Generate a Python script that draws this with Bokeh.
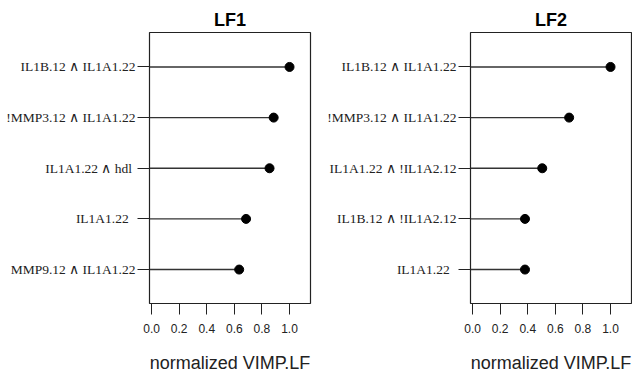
from bokeh.plotting import figure
from bokeh.layouts import row
from bokeh.models import FixedTicker
from bokeh.embed import file_html
from bokeh.resources import INLINE

# ---- data (top row first) ----
lf1_labels = ["IL1B.12 \u2227 IL1A1.22", "!MMP3.12 \u2227 IL1A1.22", "IL1A1.22 \u2227 hdl\u00a0",
              "IL1A1.22\u00a0\u00a0", "MMP9.12 \u2227 IL1A1.22"]
lf1_values = [1.0, 0.885, 0.855, 0.685, 0.635]

lf2_labels = ["IL1B.12 \u2227 IL1A1.22", "!MMP3.12 \u2227 IL1A1.22", "IL1A1.22 \u2227 !IL1A2.12",
              "IL1B.12 \u2227 !IL1A2.12", "IL1A1.22\u00a0\u00a0"]
lf2_values = [1.0, 0.70, 0.505, 0.38, 0.38]

x_ticks = [0.0, 0.2, 0.4, 0.6, 0.8, 1.0]
x_title = "normalized VIMP.LF"

X_START, X_END = -0.015, 1.152
Y_START, Y_END = 0.33, 5.68


def panel(title, labels, values, left_border, right_border):
    n = len(labels)
    ys = list(range(n, 0, -1))
    p = figure(width=316, height=375, x_range=(X_START, X_END), y_range=(Y_START, Y_END),
               output_backend="svg", toolbar_location=None,
               min_border_left=left_border, min_border_right=right_border,
               min_border_top=32, min_border_bottom=72)
    p.title.text = title
    p.title.align = "center"
    p.title.text_font = "Liberation Sans"
    p.title.text_font_size = "18px"
    p.title.text_font_style = "bold"
    p.title.text_color = "black"
    p.title.standoff = 6
    p.outline_line_color = "#222222"
    p.outline_line_width = 1.2
    p.outline_line_alpha = 1.0
    p.xgrid.visible = False
    p.ygrid.visible = False
    p.background_fill_color = "white"
    p.border_fill_color = "white"

    xa = p.xaxis[0]
    xa.ticker = FixedTicker(ticks=x_ticks)
    xa.major_label_overrides = {t: f"{t:.1f}" for t in x_ticks}
    xa.axis_line_color = None
    xa.major_tick_out = 11
    xa.major_tick_in = 0
    xa.major_tick_line_color = "#222222"
    xa.minor_tick_line_color = None
    xa.major_label_text_font = "Liberation Sans"
    xa.major_label_text_font_size = "12px"
    xa.major_label_text_color = "#222222"
    xa.major_label_standoff = 9
    xa.axis_label = x_title
    xa.axis_label_text_font = "Liberation Sans"
    xa.axis_label_text_font_size = "18px"
    xa.axis_label_text_font_style = "normal"
    xa.axis_label_text_color = "#222222"
    xa.axis_label_standoff = 17

    ya = p.yaxis[0]
    ya.ticker = FixedTicker(ticks=ys)
    ya.major_label_overrides = {y: lab for y, lab in zip(ys, labels)}
    ya.axis_line_color = None
    ya.major_tick_out = 12
    ya.major_tick_in = 0
    ya.major_tick_line_color = "#222222"
    ya.minor_tick_line_color = None
    ya.major_label_text_font = "Liberation Serif"
    ya.major_label_text_font_size = "13.5px"
    ya.major_label_text_color = "#222222"
    ya.major_label_standoff = 2

    p.segment(x0=[X_START] * n, y0=ys, x1=values, y1=ys, line_color="#333333", line_width=1.4)
    p.scatter(x=values, y=ys, size=9, fill_color="black", line_color="black")
    return p


p1 = panel("LF1", lf1_labels, lf1_values, 149, 6)
p2 = panel("LF2", lf2_labels, lf2_values, 154, 1)
layout = row(p1, p2)

open("out.html", "w").write(file_html(layout, INLINE))
